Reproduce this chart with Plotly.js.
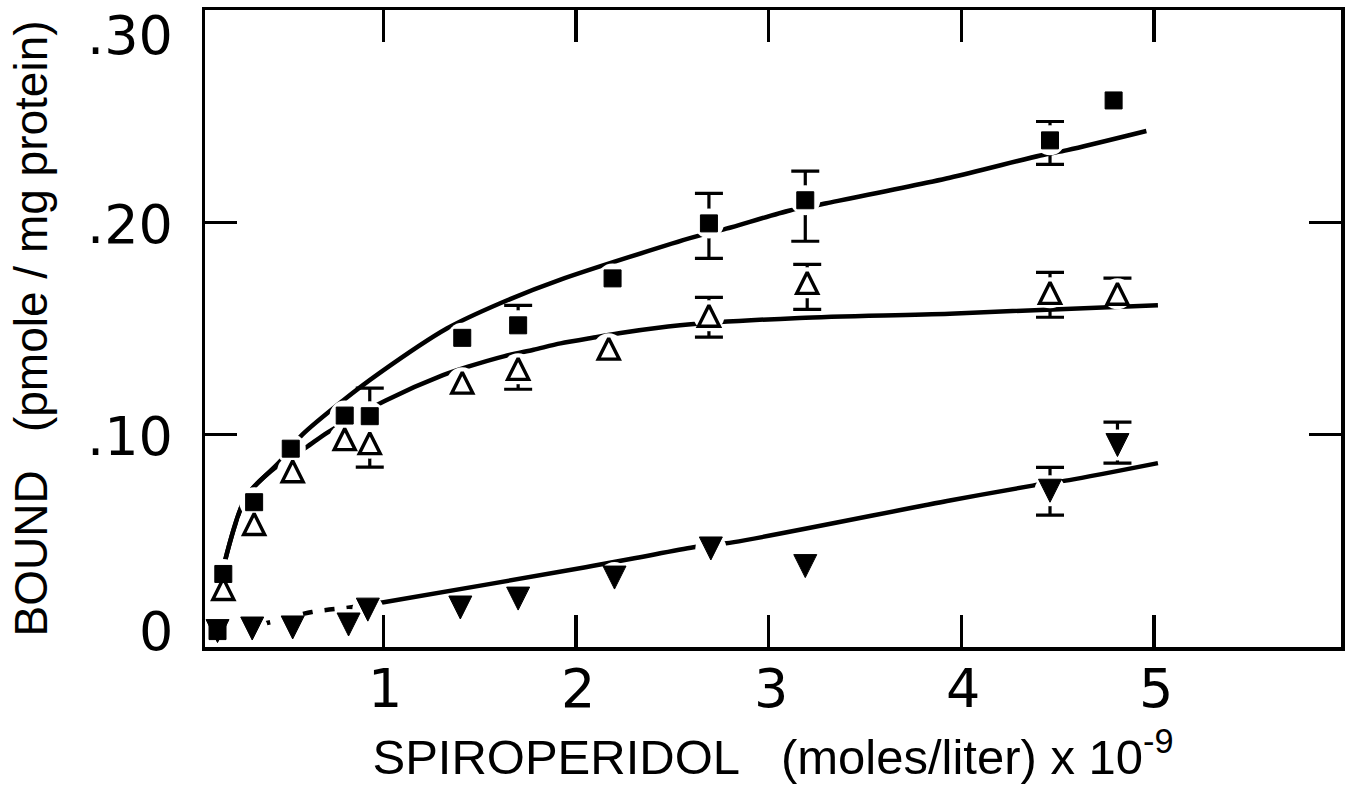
<!DOCTYPE html>
<html>
<head>
<meta charset="utf-8">
<script src="https://cdn.plot.ly/plotly-3.0.1.min.js"></script>
<style>
  html, body { margin: 0; padding: 0; background: #ffffff; }
  #chart { width: 1350px; height: 793px; }
</style>
</head>
<body>
<div id="chart"></div>
<script>
// ---- Data (x: spiroperidol, 10^-9 mol/L; y: bound, pmole/mg protein) ----
// Filled squares
const squareX = [0.14, 0.17, 0.33, 0.52, 0.80, 0.93, 1.41, 1.70, 2.19, 2.69, 3.19, 4.46, 4.79];
const squareY = [0.0075, 0.0344, 0.0682, 0.0934, 0.109, 0.1087, 0.1456, 0.1515, 0.1736, 0.1995, 0.2104, 0.2386, 0.2574];
const squareErrPlus  = [NaN, NaN, NaN, NaN, NaN, 0.0132, NaN, 0.0094, NaN, 0.0141, 0.0137, 0.0089, NaN];
const squareErrMinus = [NaN, NaN, NaN, NaN, NaN, 0, NaN, 0, NaN, 0.0165, 0.0193, 0.0113, NaN];

// Open triangles
const triX = [0.17, 0.33, 0.53, 0.80, 0.93, 1.41, 1.70, 2.17, 2.69, 3.20, 4.46, 4.81];
const triY = [0.0273, 0.0579, 0.0828, 0.0979, 0.096, 0.1245, 0.131, 0.1405, 0.156, 0.1715, 0.1668, 0.1664];
const triErrPlus  = [NaN, NaN, NaN, NaN, 0, NaN, 0, NaN, 0.0087, 0.0087, 0.0096, 0.0073];
const triErrMinus = [NaN, NaN, NaN, NaN, 0.0113, NaN, 0.0096, NaN, 0.0101, 0.0125, 0.0115, 0];

// Filled inverted triangles
const invX = [0.14, 0.32, 0.53, 0.82, 0.92, 1.40, 1.70, 2.20, 2.70, 3.19, 4.46, 4.81];
const invY = [0.0075, 0.0087, 0.0092, 0.0106, 0.0176, 0.0186, 0.0228, 0.0327, 0.0464, 0.0381, 0.0736, 0.0951];
const invErrPlus  = [NaN, NaN, NaN, NaN, NaN, NaN, NaN, NaN, NaN, NaN, 0.011, 0.0108];
const invErrMinus = [NaN, NaN, NaN, NaN, NaN, NaN, NaN, NaN, NaN, NaN, 0.0115, 0.0085];

// Fitted curves
const upperCurveX = [0.18, 0.29, 0.46, 0.58, 0.79, 0.98, 1.33, 1.61, 1.92, 2.61, 2.78, 3.11, 3.30, 3.94, 4.41, 4.55, 4.96];
const upperCurveY = [0.041, 0.071, 0.087, 0.100, 0.116, 0.129, 0.150, 0.162, 0.173, 0.193, 0.197, 0.2056, 0.209, 0.221, 0.2315, 0.234, 0.243];

const middleCurveX = [0.18, 0.29, 0.46, 0.60, 0.71, 1.01, 1.31, 1.44, 1.63, 1.78, 1.92, 2.11, 2.24, 2.54, 3.16, 3.94, 5.02];
const middleCurveY = [0.041, 0.071, 0.086, 0.094, 0.101, 0.116, 0.128, 0.132, 0.137, 0.140, 0.143, 0.146, 0.148, 0.1515, 0.155, 0.157, 0.161];

const lowerCurveDashX = [0.25, 0.42, 0.63, 0.81];
const lowerCurveDashY = [0.0085, 0.0118, 0.0165, 0.0184];
const lowerCurveX = [0.81, 1.01, 2.05, 2.31, 2.61, 2.82, 3.94, 4.37, 4.56, 5.02];
const lowerCurveY = [0.0184, 0.0212, 0.0376, 0.0419, 0.047, 0.0494, 0.069, 0.076, 0.0786, 0.0866];

// Axis ticks and labels
const xTickVals = [1, 2, 3, 4, 5];
const xTickText = ['1', '2', '3', '4', '5'];
const yTickVals = [0.1, 0.2];
const yLabelVals = [0, 0.1, 0.2, 0.3];
const yLabelText = ['0', '.10', '.20', '.30'];

const xTitle = 'SPIROPERIDOL\u00a0\u00a0\u00a0(moles/liter)\u00a0x\u00a010<sup>-9</sup>';
const yTitle = 'BOUND\u00a0\u00a0\u00a0(pmole / mg protein)';

// ---- Styling ----
const BLACK = '#000000';
const curveLine = { color: BLACK, width: 4.5, shape: 'spline', smoothing: 0.8 };
const tickFont = { family: 'DejaVu Sans', size: 54, color: BLACK };

function curve(x, y, dash) {
  return { type: 'scatter', mode: 'lines', x: x, y: y,
    line: Object.assign({}, curveLine, { dash: dash || 'solid' }),
    hoverinfo: 'skip', showlegend: false };
}
function errTrace(x, y, plus, minus) {
  return { type: 'scatter', mode: 'markers', x: x, y: y,
    marker: { size: 1, color: 'rgba(0,0,0,0)' },
    error_y: { type: 'data', symmetric: false, array: plus, arrayminus: minus,
      color: BLACK, thickness: 3.2, width: 14, visible: true },
    hoverinfo: 'skip', showlegend: false };
}
function halo(x, y, size) {
  return { type: 'scatter', mode: 'markers', x: x, y: y,
    marker: { symbol: 'circle', size: size, color: '#ffffff', line: { width: 0 } },
    hoverinfo: 'skip', showlegend: false };
}

const traces = [
  curve(upperCurveX, upperCurveY),
  curve(middleCurveX, middleCurveY),
  curve(lowerCurveDashX, lowerCurveDashY, '10px,12px'),
  curve(lowerCurveX, lowerCurveY),
  errTrace(squareX, squareY, squareErrPlus, squareErrMinus),
  errTrace(triX, triY, triErrPlus, triErrMinus),
  errTrace(invX, invY, invErrPlus, invErrMinus),
  halo(squareX, squareY, 30),
  halo(triX, triY, 31),
  halo(invX, invY, 31),
  { type: 'scatter', mode: 'markers', x: invX, y: invY, name: 'inverted',
    marker: { symbol: 'arrow-down', size: 23, standoff: 11.5, color: BLACK, line: { color: BLACK, width: 1 } },
    showlegend: false },
  { type: 'scatter', mode: 'markers', x: squareX, y: squareY, name: 'squares',
    marker: { symbol: 'square', size: 17, color: BLACK, line: { color: BLACK, width: 1 } },
    showlegend: false },
  { type: 'scatter', mode: 'markers', x: triX, y: triY, name: 'triangles',
    marker: { symbol: 'arrow-down-open', angle: 180, size: 21, standoff: 10.5, color: BLACK,
      line: { color: BLACK, width: 3.4 } },
    showlegend: false }
];

// y tick labels (end labels sit inside the frame, as in the reference)
const annotations = yLabelVals.map(function (v, i) {
  let shift = -2;
  if (i === 0) shift = 16;
  else if (i === yLabelVals.length - 1) shift = -25;
  return { xref: 'paper', yref: 'y', x: 0, y: v, xanchor: 'right', yanchor: 'middle',
    xshift: -30, yshift: shift, showarrow: false, text: yLabelText[i], font: tickFont };
});
// x tick labels
xTickVals.forEach(function (v, i) {
  annotations.push({ xref: 'x', yref: 'paper', x: v, y: 0, xanchor: 'center', yanchor: 'middle',
    xshift: 2, yshift: -41, showarrow: false, text: xTickText[i], font: tickFont });
});

const axisCommon = {
  showgrid: false, zeroline: false, showline: true, linewidth: 3.5, linecolor: BLACK,
  mirror: 'ticks', ticks: 'inside', ticklen: 32, tickwidth: 3.5, tickcolor: BLACK,
  showticklabels: false, automargin: false, fixedrange: true
};

const layout = {
  width: 1350, height: 793,
  margin: { l: 205, r: 9, t: 10, b: 146, pad: 0 },
  paper_bgcolor: '#ffffff', plot_bgcolor: '#ffffff',
  showlegend: false, hovermode: false,
  xaxis: Object.assign({}, axisCommon, {
    range: [0.075, 5.97], tickmode: 'array', tickvals: xTickVals,
    title: { text: xTitle, standoff: 91, font: { family: 'Liberation Sans', size: 49, color: BLACK } }
  }),
  yaxis: Object.assign({}, axisCommon, {
    range: [0, 0.30], tickmode: 'array', tickvals: yTickVals,
    title: { text: yTitle, standoff: 140, font: { family: 'Liberation Sans', size: 46, color: BLACK } }
  }),
  annotations: annotations
};

Plotly.newPlot('chart', traces, layout, { staticPlot: true, displayModeBar: false });
</script>
</body>
</html>
